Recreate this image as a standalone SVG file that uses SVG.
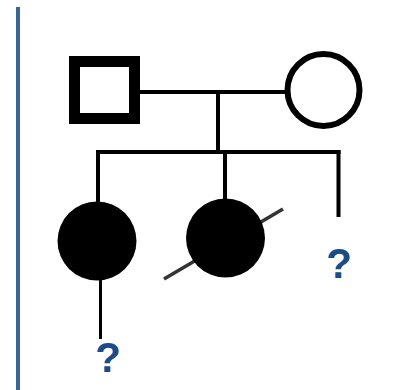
<svg xmlns="http://www.w3.org/2000/svg" width="410" height="390" viewBox="0 0 410 390">
<style>
.ln{stroke:#000;stroke-width:4;fill:none}
.q{font-family:"Liberation Sans",Arial,sans-serif;font-size:42px;font-weight:bold;fill:#1b4c86;text-anchor:middle}
</style>
<rect x="0" y="0" width="410" height="390" fill="#fff"/>
<rect id="bar" x="16" y="7" width="4" height="383" fill="#336699"/>
<g id="connectors">
<line class="ln" x1="140" y1="92" x2="287" y2="92"/>
<line class="ln" x1="218" y1="92" x2="218" y2="152"/>
<line class="ln" x1="96" y1="152" x2="340.5" y2="152"/>
<line class="ln" x1="98" y1="150" x2="98" y2="204"/>
<line class="ln" x1="225" y1="152" x2="225" y2="200"/>
<line class="ln" x1="338.5" y1="150" x2="338.5" y2="217"/>
<line class="ln" x1="100.5" y1="278" x2="100.5" y2="339" style="stroke-width:3"/>
</g>
<g id="father"><rect x="74.5" y="61.5" width="60" height="57" fill="#fff" stroke="#000" stroke-width="11"/></g>
<g id="mother"><circle cx="323.5" cy="90" r="36" fill="#fff" stroke="#000" stroke-width="6"/></g>
<g id="daughter1"><circle cx="97" cy="241" r="39.5" fill="#000"/></g>
<g id="daughter2"><line x1="164" y1="279" x2="283" y2="209" stroke="#333" stroke-width="3.5"/>
<circle cx="225.5" cy="238" r="39.5" fill="#000"/></g>
<g id="unknown1"><text class="q" x="339" y="278">?</text></g>
<g id="unknown2"><text class="q" x="108" y="372">?</text></g>
</svg>
